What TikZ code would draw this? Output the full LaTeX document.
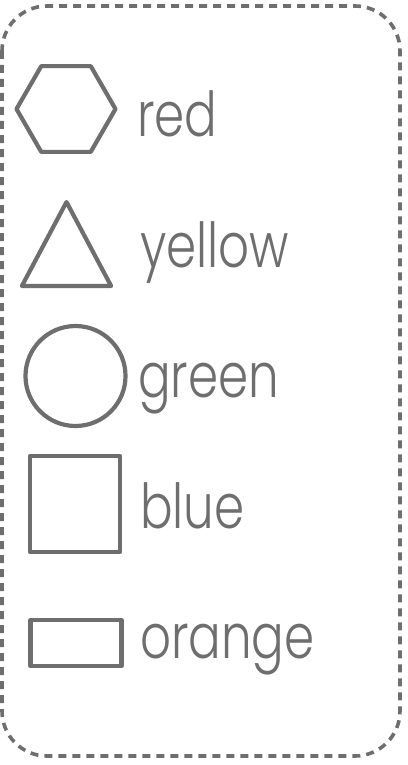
\documentclass[tikz,border=0pt]{standalone}
\usepackage{fontspec}
\newfontfamily\handfont[FakeStretch=0.78]{Poppins Light}
\usepackage{tikz}
\usetikzlibrary{shapes.geometric}
\definecolor{pencil}{HTML}{6E6E6E}

\begin{document}
\begin{tikzpicture}[x=1pt, y=-1pt,
  every node/.append style={inner sep=0pt, outer sep=0pt},
  shp/.style={draw=pencil, line width=4.2pt, line join=round},
  hexa/.style={shp, regular polygon, regular polygon sides=6, minimum size=99pt},
  tri/.style={shp, regular polygon, regular polygon sides=3, minimum size=112pt, xscale=0.92},
  circ/.style={shp, circle, minimum size=100pt},
  rect/.style={shp, rectangle},
  word/.style={anchor=base west, text=pencil, font=\handfont\fontsize{62}{66}\selectfont},
  frame/.style={draw=pencil, line width=3.6pt, dash pattern=on 8pt off 6pt, rounded corners=45pt},
]
\useasboundingbox (0,0) rectangle (407,765);

%% ─── dashed frame ───────────────────────────────────────────────
\draw[frame] (2,6) rectangle (400,756);

%% ─── shapes, one row each ───────────────────────────────────────
\node[hexa] (hex) at (66,109) {};
\node[tri]  (tri) at (66.5,258) {};
\node[circ] (cir) at (75.5,376) {};
\node[rect, minimum width=90pt, minimum height=96pt] (sqr) at (75,504) {};
\node[rect, minimum width=91pt, minimum height=46pt] (rec) at (76,643) {};

%% ─── colour words ───────────────────────────────────────────────
\node[word] (wred) at (137,136) {red};
\node[word] (wyel) at (140,267) {yellow};
\node[word] (wgrn) at (138,397) {green};
\node[word] (wblu) at (140,528) {blue};
\node[word] (wora) at (140,658) {orange};

\end{tikzpicture}
\end{document}
